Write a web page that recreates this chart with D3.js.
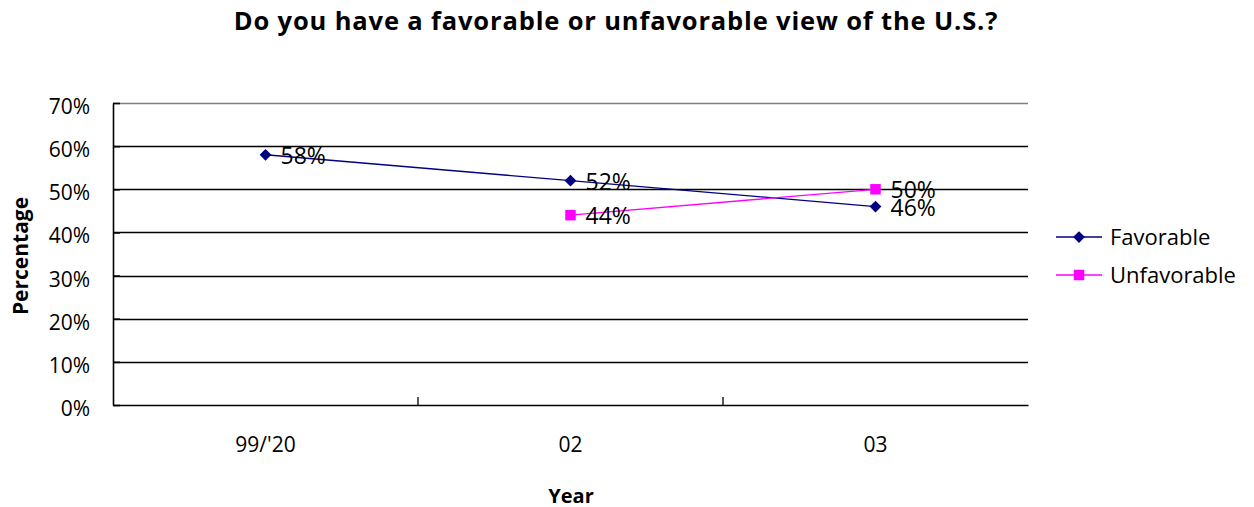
<!DOCTYPE html>
<html>
<head>
<meta charset="utf-8">
<script src="https://cdn.jsdelivr.net/npm/d3@7"></script>
<style>
  html, body { margin: 0; padding: 0; background: #fff; }
  svg { display: block; font-family: "Open Sans", "Liberation Sans", sans-serif; }
</style>
</head>
<body>
<svg id="chart" width="1254" height="507"></svg>
<script>
// Survey years and responses (percent)
const years = ["99/'20", "02", "03"];
const favorable = [58, 52, 46];
const unfavorable = [null, 44, 50];
const yTicks = [0, 10, 20, 30, 40, 50, 60, 70];
const seriesNames = ["Favorable", "Unfavorable"];
const seriesColors = ["#000080", "#ff00ff"];

const svg = d3.select("#chart");
const margin = { left: 113, right: 1028, top: 103, bottom: 405 };

const x = d3.scaleBand().domain(years).range([margin.left, margin.right]);
const y = d3.scaleLinear().domain([0, 70]).range([margin.bottom, margin.top]);

// Title
svg.append("text")
  .attr("x", 616).attr("y", 30)
  .attr("text-anchor", "middle")
  .attr("font-size", 25.5).attr("font-weight", "bold")
  .attr("letter-spacing", 0.85)
  .text("Do you have a favorable or unfavorable view of the U.S.?");

// Horizontal gridlines
svg.append("g").selectAll("line").data(yTicks.filter(d => d > 0)).join("line")
  .attr("x1", margin.left).attr("x2", margin.right)
  .attr("y1", d => Math.round(y(d)) + 0.5).attr("y2", d => Math.round(y(d)) + 0.5)
  .attr("stroke", d => d === 70 ? "#808080" : "#000").attr("stroke-width", 1.3);

// Y axis
const yAxis = svg.append("g")
  .attr("transform", `translate(${margin.left},0)`)
  .call(d3.axisLeft(y).tickValues(yTicks).tickSize(0).tickPadding(23).tickFormat(d => d + "%"));
yAxis.select(".domain").attr("stroke", "#000").attr("stroke-width", 1.6);
yAxis.selectAll("text").attr("font-size", 21).attr("fill", "#000")
  .attr("dy", "0.5em")
  .attr("font-family", "'Open Sans', sans-serif");
yAxis.selectAll(".tick").append("line")
  .attr("x1", 0).attr("x2", 7).attr("stroke", "#000").attr("stroke-width", 1.6);

// X axis
const xAxis = svg.append("g")
  .attr("transform", `translate(0,${margin.bottom})`)
  .call(d3.axisBottom(x).tickSize(0).tickPadding(32));
xAxis.select(".domain").attr("stroke", "#000").attr("stroke-width", 1.6);
xAxis.selectAll("text").attr("font-size", 21).attr("fill", "#000")
  .attr("font-family", "'Open Sans', sans-serif");
// Category separators pointing into the plot
xAxis.append("g").selectAll("line").data(years.slice(1)).join("line")
  .attr("x1", d => x(d)).attr("x2", d => x(d))
  .attr("y1", 0).attr("y2", -8)
  .attr("stroke", "#000").attr("stroke-width", 1.3);

// Axis titles
svg.append("text")
  .attr("x", 571).attr("y", 503)
  .attr("text-anchor", "middle").attr("font-size", 20).attr("font-weight", "bold")
  .text("Year");
svg.append("text")
  .attr("transform", "translate(28,256) rotate(-90)")
  .attr("text-anchor", "middle").attr("font-size", 21).attr("font-weight", "bold")
  .text("Percentage");

const cx = d => x(d) + x.bandwidth() / 2;

const diamond = d3.symbol().type(d3.symbolDiamond2).size(88);
const square = d3.symbol().type(d3.symbolSquare).size(110);
const symbols = [diamond, square];

const series = [favorable, unfavorable].map((vals, i) => ({
  name: seriesNames[i],
  color: seriesColors[i],
  symbol: symbols[i],
  points: years.map((yr, j) => ({ yr, v: vals[j] })).filter(p => p.v != null)
}));

const line = d3.line().x(p => cx(p.yr)).y(p => y(p.v));

series.forEach(s => {
  const g = svg.append("g");
  g.append("path").datum(s.points)
    .attr("d", line).attr("fill", "none")
    .attr("stroke", s.color).attr("stroke-width", 1.3);
  g.selectAll("path.m").data(s.points).join("path").attr("class", "m")
    .attr("transform", p => `translate(${cx(p.yr)},${y(p.v)})`)
    .attr("d", s.symbol).attr("fill", s.color);
  g.selectAll("text").data(s.points).join("text")
    .attr("x", p => cx(p.yr) + 15).attr("y", p => y(p.v) + 9)
    .attr("font-size", 23).attr("fill", "#000")
    .text(p => p.v + "%");
});

// Legend
const legend = svg.append("g");
series.forEach((s, i) => {
  const ly = 237 + i * 38;
  legend.append("line")
    .attr("x1", 1056).attr("x2", 1102).attr("y1", ly).attr("y2", ly)
    .attr("stroke", s.color).attr("stroke-width", 1.3);
  legend.append("path")
    .attr("transform", `translate(1079,${ly})`)
    .attr("d", s.symbol).attr("fill", s.color);
  legend.append("text")
    .attr("x", 1110).attr("y", ly + 7.5)
    .attr("font-size", 22).attr("fill", "#000")
    .text(s.name);
});
</script>
</body>
</html>
